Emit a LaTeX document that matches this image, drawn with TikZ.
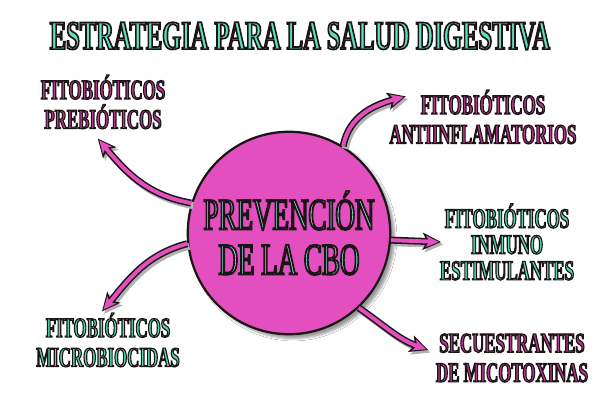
\documentclass[tikz,border=0pt]{standalone}
\usepackage{fontspec}
\usetikzlibrary{arrows.meta, positioning, shadows.blur}
\newfontfamily\dispfont[FakeStretch=0.6,FakeBold=4]{Liberation Serif}
\definecolor{titleteal}{HTML}{5BE3BD}
\definecolor{bubblepink}{HTML}{E44FBF}
\definecolor{labelplum}{HTML}{B4378A}
\definecolor{labelteal}{HTML}{52D9AC}
\definecolor{innerteal}{HTML}{8BEAD6}
\definecolor{inkline}{HTML}{1C1518}
% filled letters with a dark stroke
\newcommand{\olt}[2]{\textcolor{#1}{\special{pdf:literal direct 0.11 0.08 0.09 RG}#2}}

\begin{document}
\begin{tikzpicture}[
    lbl/.style={align=center, inner sep=1pt, font=\dispfont\bfseries\fontsize{20}{21}\selectfont},
    branch/.style={draw=bubblepink, line width=2.8pt, shorten >=1.6pt,
      -{Stealth[length=9pt, width=8pt, inset=2pt]},
      preaction={draw=black!30, line width=5pt, shorten >=0pt,
        transform canvas={shift={(1.5pt,-1.8pt)}},
        -{Stealth[length=13pt, width=12pt, inset=3pt]}},
      preaction={draw=inkline, line width=5pt, shorten >=0pt,
        -{Stealth[length=13pt, width=12pt, inset=3pt]}}}
  ]
  \useasboundingbox (0,0) rectangle (15,10);
  \fill[white] (0,0) rectangle (15,10);

  % Title
  \node[font=\dispfont\bfseries\fontsize{29}{30}\selectfont] (title) at (7.5,9.1)
    {\olt{titleteal}{ESTRATEGIA PARA LA SALUD DIGESTIVA}};

  % Central bubble
  \node[circle, minimum size=5cm, fill=bubblepink, draw=inkline, line width=1.6pt,
        blur shadow={shadow xshift=3pt, shadow yshift=-3pt, shadow blur steps=6},
        align=center, font=\dispfont\fontsize{32}{32}\selectfont] (cbo) at (7.225,4.175)
    {\olt{innerteal}{PREVENCIÓN}\\\olt{innerteal}{DE LA CBO}};

  % Labels
  \node[lbl] (prebio) at (2.575,7.45)
    {\olt{labelplum}{FITOBIÓTICOS}\\\olt{labelplum}{PREBIÓTICOS}};
  \node[lbl] (antiinfl) at (12.075,7.075)
    {\olt{labelplum}{FITOBIÓTICOS}\\\olt{labelplum}{ANTIINFLAMATORIOS}};
  \node[lbl, font=\dispfont\bfseries\fontsize{20}{18.5}\selectfont] (inmuno) at (12.675,3.95)
    {\olt{labelteal}{FITOBIÓTICOS}\\\olt{labelteal}{INMUNO}\\\olt{labelteal}{ESTIMULANTES}};
  \node[lbl] (microb) at (2.7,1.5)
    {\olt{labelteal}{FITOBIÓTICOS}\\\olt{labelteal}{MICROBIOCIDAS}};
  \node[lbl] (secuest) at (12.8,1.05)
    {\olt{labelplum}{SECUESTRANTES}\\\olt{labelplum}{DE MICOTOXINAS}};

  % Arrow tips
  \coordinate (tipA) at ([shift={(-0.13,-0.2)}]prebio.south);
  \coordinate (tipB) at ([shift={(0.45,-0.2)}]antiinfl.north west);
  \coordinate (tipC) at ([xshift=2pt]inmuno.west);
  \coordinate (tipD) at ([shift={(-0.15,0)}]microb.north);
  \coordinate (tipE) at ([shift={(-0.15,-0.45)}]secuest.north west);

  % Arrows
  \draw[branch] (cbo.163) to[out=170, in=-50] (tipA);
  \draw[branch] (cbo.58) to[out=80, in=195] (tipB);
  \draw[branch] (cbo.-4) -- (tipC);
  \draw[branch] (cbo.186) to[out=195, in=50] (tipD);
  \draw[branch] (cbo.-47) to[out=-35, in=160] (tipE);
\end{tikzpicture}
\end{document}
